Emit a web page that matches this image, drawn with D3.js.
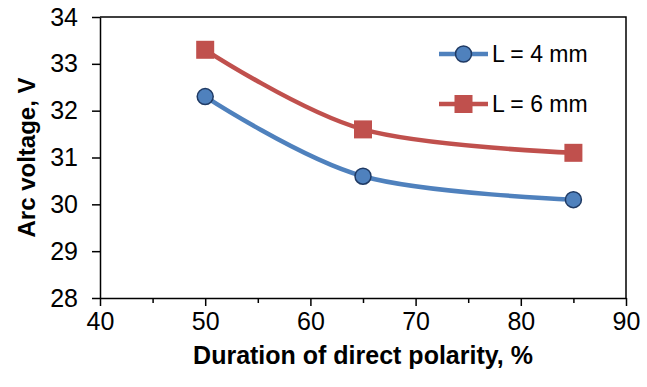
<!DOCTYPE html>
<html>
<head>
<meta charset="utf-8">
<script src="https://cdn.jsdelivr.net/npm/d3@7"></script>
<style>
  body { margin: 0; background: #fff; }
  svg { font-family: Arial, "Liberation Sans", sans-serif; }
</style>
</head>
<body>
<svg id="chart" width="647" height="387"></svg>
<script>
// data
const polarity = [50, 65, 85];
const voltage4mm = [32.3, 30.6, 30.1];
const voltage6mm = [33.3, 31.6, 31.1];
const seriesNames = ['L = 4 mm', 'L = 6 mm'];
const xTicks = [40, 50, 60, 70, 80, 90];
const xMinorTicks = [45, 55, 65, 75, 85];
const yTicks = [28, 29, 30, 31, 32, 33, 34];

const margin = { top: 17, right: 21, bottom: 89, left: 100 };
const width = 647 - margin.left - margin.right;
const height = 387 - margin.top - margin.bottom;

const svg = d3.select('#chart');
const g = svg.append('g').attr('transform', `translate(${margin.left},${margin.top})`);

const x = d3.scaleLinear().domain([40, 90]).range([0, width]);
const y = d3.scaleLinear().domain([28, 34]).range([height, 0]);

// frame top + right
g.append('path')
  .attr('d', `M0,0H${width}V${height}`)
  .attr('fill', 'none')
  .attr('stroke', '#000')
  .attr('stroke-width', 1.5);

// minor x ticks
g.append('g')
  .attr('transform', `translate(0,${height})`)
  .call(d3.axisBottom(x).tickValues(xMinorTicks).tickSize(5).tickFormat(''))
  .call(a => a.select('.domain').remove())
  .call(a => a.selectAll('line').attr('stroke-width', 1.5));

const xAxis = g.append('g')
  .attr('transform', `translate(0,${height})`)
  .call(d3.axisBottom(x).tickValues(xTicks).tickFormat(d3.format('d'))
    .tickSize(8).tickPadding(6).tickSizeOuter(0));

const yAxis = g.append('g')
  .call(d3.axisLeft(y).tickValues(yTicks).tickFormat(d3.format('d'))
    .tickSize(8).tickPadding(14).tickSizeOuter(0));

[xAxis, yAxis].forEach(a => {
  a.attr('font-size', 25).attr('font-family', 'Arial, "Liberation Sans", sans-serif');
  a.select('.domain').attr('stroke-width', 1.5);
  a.selectAll('line').attr('stroke-width', 1.5);
  a.selectAll('text').attr('fill', '#000');
});

// axis titles
svg.append('text')
  .attr('x', margin.left + width / 2)
  .attr('y', 364)
  .attr('text-anchor', 'middle')
  .attr('font-size', 25)
  .attr('font-weight', 'bold')
  .text('Duration of direct polarity, %');

svg.append('text')
  .attr('transform', `translate(35,${margin.top + height / 2}) rotate(-90)`)
  .attr('text-anchor', 'middle')
  .attr('font-size', 24)
  .attr('font-weight', 'bold')
  .text('Arc voltage, V');

const line = d3.line()
  .x(d => x(d[0]))
  .y(d => y(d[1]))
  .curve(d3.curveCatmullRom.alpha(0));

const series = [
  { name: seriesNames[0], values: voltage4mm, color: '#4F81BD', marker: 'circle' },
  { name: seriesNames[1], values: voltage6mm, color: '#C0504D', marker: 'square' }
];

function drawMarker(sel, s, cx, cy) {
  if (s.marker === 'circle') {
    sel.append('circle')
      .attr('cx', cx).attr('cy', cy).attr('r', 8)
      .attr('fill', s.color)
      .attr('stroke', '#1F3A64')
      .attr('stroke-width', 1.5);
  } else {
    sel.append('rect')
      .attr('x', cx - 9).attr('y', cy - 9)
      .attr('width', 18).attr('height', 18)
      .attr('fill', s.color);
  }
}

series.forEach(s => {
  const pts = polarity.map((p, i) => [p, s.values[i]]);
  g.append('path')
    .datum(pts)
    .attr('d', line)
    .attr('fill', 'none')
    .attr('stroke', s.color)
    .attr('stroke-width', 4.5);
  pts.forEach(p => drawMarker(g, s, x(p[0]), y(p[1])));
});

// legend
const legend = svg.append('g');
series.forEach((s, i) => {
  const ly = 54 + i * 50;
  legend.append('line')
    .attr('x1', 439).attr('x2', 488)
    .attr('y1', ly).attr('y2', ly)
    .attr('stroke', s.color)
    .attr('stroke-width', 4.5);
  drawMarker(legend, s, 463.5, ly);
  legend.append('text')
    .attr('x', 492).attr('y', ly)
    .attr('dy', '0.36em')
    .attr('font-size', 23)
    .text(s.name);
});
</script>
</body>
</html>
